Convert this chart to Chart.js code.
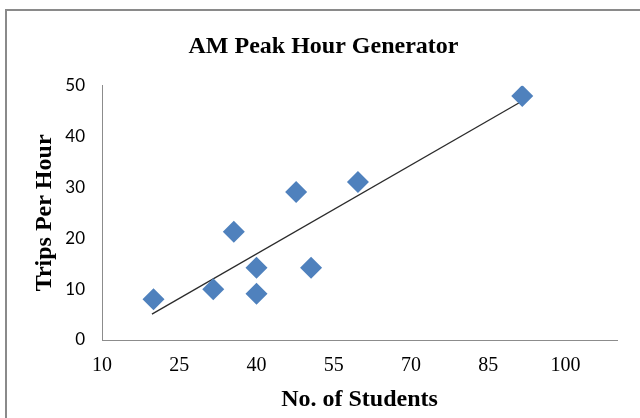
<!DOCTYPE html>
<html>
<head>
<meta charset="utf-8">
<script src="https://cdn.jsdelivr.net/npm/chart.js@4"></script>
<style>
  html, body { margin: 0; padding: 0; background: #fff; overflow: hidden; }
  #wrap { position: relative; width: 652px; height: 418px; }
  #frame { position: absolute; left: 5px; top: 9px; width: 700px; height: 500px;
           border: 2px solid #8a8a8a; box-sizing: border-box; }
  canvas { position: absolute; left: 0; top: 0; }
</style>
</head>
<body>
<div id="wrap">
  <div id="frame"></div>
  <canvas id="chart" width="652" height="418"></canvas>
</div>
<script>
// values
var students = [20, 31.6, 35.6, 40, 40, 47.7, 50.6, 59.7, 91.6];
var tripsPerHour = [8, 10, 21.3, 14.2, 9.1, 29.1, 14.2, 31.1, 48];

// trendline end points
var trendStudents = [19.7, 91.6];
var trendTrips = [5.1, 47.0];

var xTicks = [10, 25, 40, 55, 70, 85, 100];
var yTicks = [0, 10, 20, 30, 40, 50];

var points = students.map(function (x, i) { return { x: x, y: tripsPerHour[i] }; });
var trend = trendStudents.map(function (x, i) { return { x: x, y: trendTrips[i] }; });

var ctx = document.getElementById('chart');

var chart = new Chart(ctx, {
    type: 'scatter',
    data: {
        datasets: [
            {
                label: 'Trips',
                data: points,
                pointStyle: 'rectRot',
                pointRadius: 11,
                pointHoverRadius: 11,
                backgroundColor: '#4F81BD',
                borderColor: '#4F81BD',
                borderWidth: 0
            },
            {
                label: 'Trend',
                type: 'line',
                data: trend,
                borderColor: '#2b2b2b',
                borderWidth: 1.3,
                pointRadius: 0,
                fill: false
            }
        ]
    },
    options: {
        responsive: false,
        animation: false,
        layout: { padding: { top: 32, left: 30, right: 35, bottom: 4 } },
        plugins: {
            legend: { display: false },
            tooltip: { enabled: false },
            title: {
                display: true,
                text: 'AM Peak Hour Generator',
                color: '#000',
                font: { family: 'Liberation Serif', size: 24, weight: 'bold' },
                padding: { top: 0, bottom: 25 }
            }
        },
        scales: {
            x: {
                type: 'linear',
                min: 10,
                max: 110,
                afterBuildTicks: function (axis) {
                    axis.ticks = xTicks.map(function (v) { return { value: v }; });
                },
                afterFit: function (axis) { axis.height = 74; },
                grid: { display: false, drawTicks: false },
                border: { display: true, color: '#8c8c8c', width: 1 },
                ticks: {
                    color: '#000',
                    padding: 14,
                    font: { family: 'Liberation Serif', size: 20 }
                },
                title: {
                    display: true,
                    text: 'No. of Students',
                    color: '#000',
                    font: { family: 'Liberation Serif', size: 24, weight: 'bold' },
                    padding: { top: 0, bottom: 0 }
                }
            },
            y: {
                min: 0,
                max: 50,
                afterBuildTicks: function (axis) {
                    axis.ticks = yTicks.map(function (v) { return { value: v }; });
                },
                afterFit: function (axis) { axis.width = 72; },
                grid: { display: false, drawTicks: false },
                border: { display: true, color: '#8c8c8c', width: 1 },
                ticks: {
                    color: '#000',
                    padding: 17,
                    font: { family: 'Lato', size: 17 }
                },
                title: {
                    display: true,
                    text: 'Trips Per Hour',
                    color: '#000',
                    font: { family: 'Liberation Serif', size: 24, weight: 'bold' },
                    padding: { top: 0, bottom: 0 }
                }
            }
        }
    }
});
</script>
</body>
</html>
